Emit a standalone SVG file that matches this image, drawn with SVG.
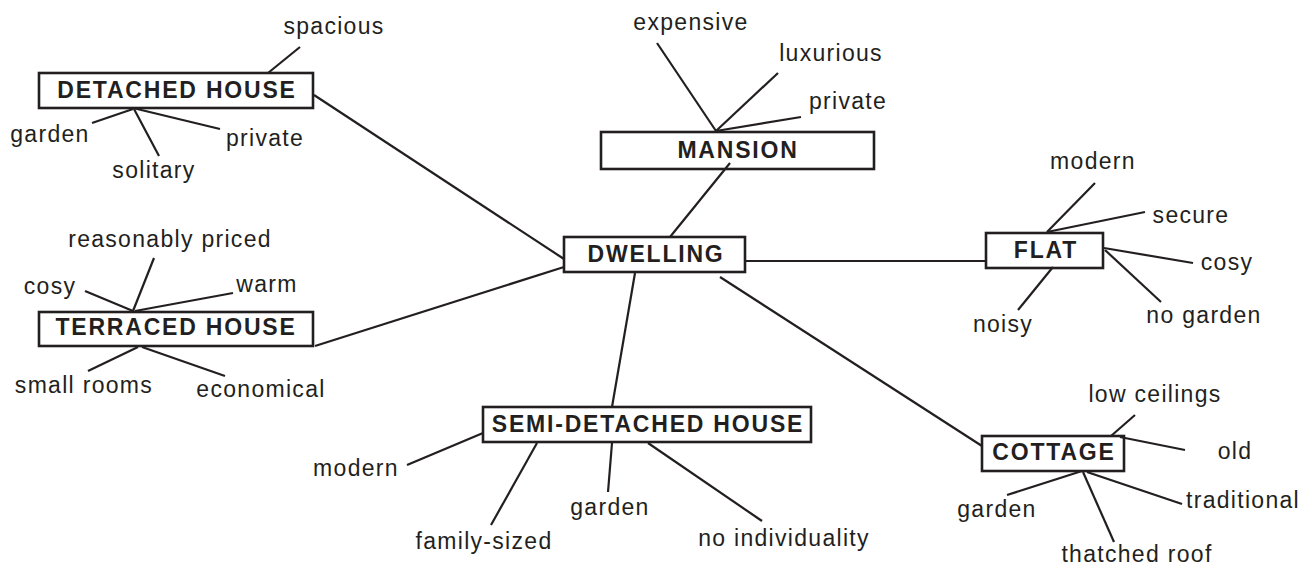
<svg xmlns="http://www.w3.org/2000/svg" width="1302" height="566" viewBox="0 0 1302 566">
<style>
  .box { fill: #ffffff; stroke: #231f20; stroke-width: 2.6; }
  .nt { font-family: "Liberation Sans", Arial, sans-serif; font-weight: bold; font-size: 23px; letter-spacing: 1.8px; fill: #231f20; text-anchor: middle; }
  .lt { font-family: "Liberation Sans", Arial, sans-serif; font-size: 23px; letter-spacing: 1.3px; fill: #231f20; text-anchor: middle; }
  .ln line { stroke: #231f20; stroke-width: 2.2; stroke-linecap: butt; }
</style>
<rect width="1302" height="566" fill="#ffffff"/>

<g id="detached-house">
  <rect class="box" x="39" y="73" width="274" height="35"/>
  <text class="nt" x="177" y="98">DETACHED HOUSE</text>
  <text class="lt" x="334" y="34">spacious</text>
  <text class="lt" x="50" y="142">garden</text>
  <text class="lt" x="265" y="146">private</text>
  <text class="lt" x="154" y="178">solitary</text>
</g>

<g id="mansion">
  <rect class="box" x="601" y="132" width="273" height="37"/>
  <text class="nt" x="738" y="158">MANSION</text>
  <text class="lt" x="691" y="30">expensive</text>
  <text class="lt" x="831" y="61">luxurious</text>
  <text class="lt" x="848" y="109">private</text>
</g>

<g id="terraced-house">
  <rect class="box" x="39" y="312" width="274" height="34"/>
  <text class="nt" x="176" y="335">TERRACED HOUSE</text>
  <text class="lt" x="170" y="247">reasonably priced</text>
  <text class="lt" x="50" y="294">cosy</text>
  <text class="lt" x="267" y="292">warm</text>
  <text class="lt" x="84" y="393">small rooms</text>
  <text class="lt" x="261" y="397">economical</text>
</g>

<g id="dwelling">
  <rect class="box" x="564" y="237" width="181" height="35"/>
  <text class="nt" x="656" y="262">DWELLING</text>
</g>

<g id="flat">
  <rect class="box" x="986" y="233" width="117" height="35"/>
  <text class="nt" x="1046" y="258">FLAT</text>
  <text class="lt" x="1093" y="169">modern</text>
  <text class="lt" x="1191" y="223">secure</text>
  <text class="lt" x="1227" y="270">cosy</text>
  <text class="lt" x="1204" y="323">no garden</text>
  <text class="lt" x="1003" y="332">noisy</text>
</g>

<g id="semi-detached-house">
  <rect class="box" x="483" y="407" width="328" height="35"/>
  <text class="nt" x="648" y="432">SEMI-DETACHED HOUSE</text>
  <text class="lt" x="356" y="476">modern</text>
  <text class="lt" x="484" y="549">family-sized</text>
  <text class="lt" x="610" y="515">garden</text>
  <text class="lt" x="784" y="546">no individuality</text>
</g>

<g id="cottage">
  <rect class="box" x="982" y="436" width="142" height="35"/>
  <text class="nt" x="1054" y="460">COTTAGE</text>
  <text class="lt" x="1155" y="402">low ceilings</text>
  <text class="lt" x="1235" y="459">old</text>
  <text class="lt" x="1243" y="508">traditional</text>
  <text class="lt" x="997" y="517">garden</text>
  <text class="lt" x="1137" y="562">thatched roof</text>
</g>

<g id="connectors" class="ln">
  <line x1="314" y1="95" x2="564" y2="259"/>
  <line x1="315" y1="346" x2="564" y2="267"/>
  <line x1="730" y1="163" x2="670" y2="237"/>
  <line x1="746" y1="261" x2="986" y2="261"/>
  <line x1="635" y1="273" x2="612" y2="407"/>
  <line x1="720" y1="277" x2="982" y2="446"/>

  <line x1="300" y1="47" x2="268" y2="73"/>
  <line x1="92" y1="123" x2="133" y2="109"/>
  <line x1="220" y1="129" x2="133" y2="108"/>
  <line x1="159" y1="156" x2="134" y2="109"/>

  <line x1="657" y1="43" x2="716" y2="131"/>
  <line x1="778" y1="73" x2="716" y2="131"/>
  <line x1="801" y1="117" x2="716" y2="131"/>

  <line x1="154" y1="258" x2="133" y2="311"/>
  <line x1="85" y1="291" x2="133" y2="311"/>
  <line x1="233" y1="293" x2="135" y2="311"/>
  <line x1="88" y1="371" x2="138" y2="347"/>
  <line x1="225" y1="376" x2="142" y2="347"/>

  <line x1="1095" y1="183" x2="1047" y2="232"/>
  <line x1="1145" y1="212" x2="1047" y2="232"/>
  <line x1="1193" y1="263" x2="1104" y2="248"/>
  <line x1="1161" y1="302" x2="1105" y2="250"/>
  <line x1="1018" y1="310" x2="1053" y2="267"/>

  <line x1="1135" y1="415" x2="1111" y2="436"/>
  <line x1="1185" y1="450" x2="1120" y2="437"/>
  <line x1="1182" y1="504" x2="1087" y2="472"/>
  <line x1="1007" y1="495" x2="1082" y2="471"/>
  <line x1="1114" y1="542" x2="1083" y2="472"/>

  <line x1="407" y1="465" x2="483" y2="433"/>
  <line x1="491" y1="525" x2="537" y2="443"/>
  <line x1="608" y1="492" x2="612" y2="443"/>
  <line x1="648" y1="443" x2="762" y2="521"/>
</g>
</svg>
